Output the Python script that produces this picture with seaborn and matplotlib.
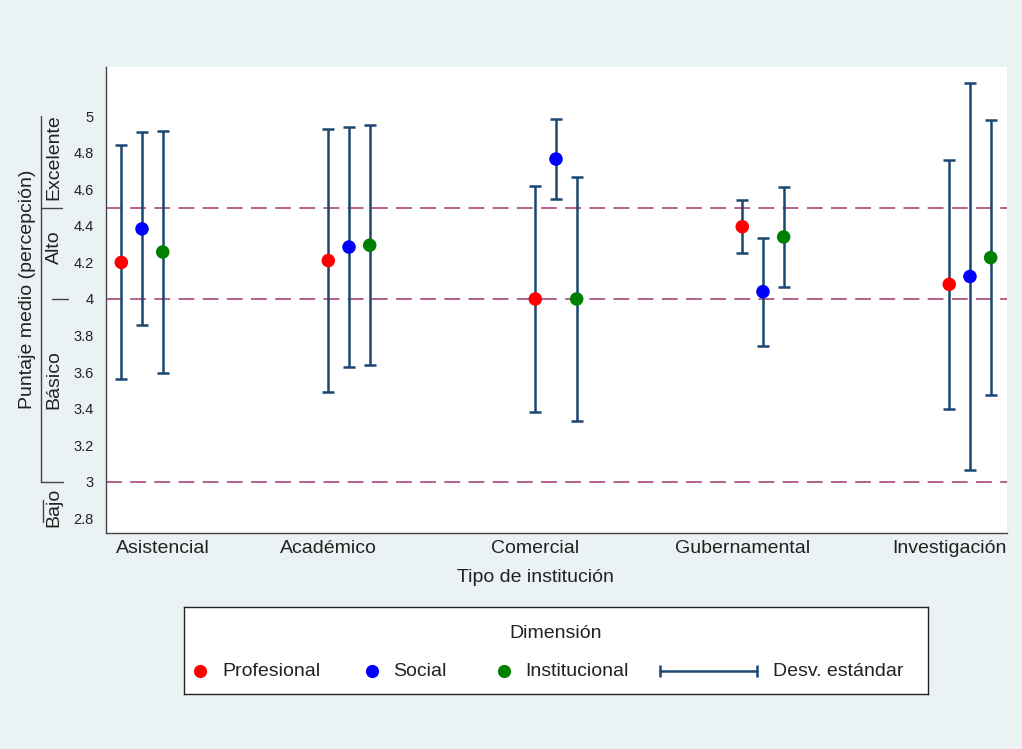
import numpy as np
import pandas as pd
import matplotlib.pyplot as plt
import matplotlib.transforms as mtransforms
import seaborn as sns

# datos: media y desviacion estandar por dimension
instituciones = ["Asistencial", "Académico", "Comercial", "Gubernamental", "Investigación"]
dimensiones = ["Profesional", "Social", "Institucional"]
media_profesional = [4.20, 4.21, 4.00, 4.395, 4.08]
media_social = [4.383, 4.284, 4.765, 4.04, 4.123]
media_institucional = [4.257, 4.294, 4.00, 4.339, 4.226]
de_profesional = [0.64, 0.721, 0.62, 0.144, 0.68]
de_social = [0.527, 0.657, 0.22, 0.295, 1.057]
de_institucional = [0.663, 0.655, 0.667, 0.273, 0.75]
niveles = ["Bajo", "Básico", "Alto", "Excelente"]
cortes = [3, 4, 4.5]

colores = {"Profesional": "#ff0000", "Social": "#0000ff", "Institucional": "#008000"}
navy = "#1a476f"

rows = []
medias = [media_profesional, media_social, media_institucional]
des = [de_profesional, de_social, de_institucional]
for j, dim in enumerate(dimensiones):
    for i, inst in enumerate(instituciones):
        rows.append({"inst": inst, "dim": dim, "media": medias[j][i], "de": des[j][i],
                     "x": i + (j - 1) * 0.1})
df = pd.DataFrame(rows)

sns.set_theme(style="white")
plt.rcParams['font.family'] = ['Liberation Sans', 'DejaVu Sans']

fig = plt.figure(figsize=(10.22, 7.49), dpi=100, facecolor="#eaf2f3")
ax = fig.add_axes([106 / 1022, 1 - 533 / 749, 901 / 1022, 466 / 749])
ax.set_facecolor("white")

for c in cortes:
    ax.axhline(c, color="#a8457a", lw=1.2, dashes=(9.5, 5), zorder=1)

ax.errorbar(df["x"], df["media"], yerr=df["de"], fmt="none", ecolor=navy,
            elinewidth=1.8, capsize=4.6, capthick=1.8, zorder=2)
sns.scatterplot(data=df, x="x", y="media", hue="dim", palette=colores, s=95,
                edgecolor="none", legend=False, zorder=3, ax=ax)

ax.set_xlim(-0.174, 4.179)
ax.set_ylim(2.721, 5.268)
yt = np.round(np.arange(2.8, 5.01, 0.2), 1)
ax.set_yticks(yt, [f"{v:g}" for v in yt])
ax.set_xticks([0.1, 0.9, 1.9, 2.9, 3.9], instituciones)
ax.tick_params(axis="y", length=6, width=0.9, color="#444444", labelsize=10.5,
               pad=3, labelcolor="#222222")
ax.tick_params(axis="x", length=0, labelsize=14, pad=5.3, labelcolor="#222222")
ax.set_xlabel("")
ax.set_ylabel("")
for s in ["top", "right"]:
    ax.spines[s].set_visible(False)
for s in ["left", "bottom"]:
    ax.spines[s].set_color("#444444")
    ax.spines[s].set_linewidth(1)

# eje secundario de niveles
tr = mtransforms.blended_transform_factory(ax.transAxes, ax.transData)
kw = dict(color="#444444", lw=1, transform=tr, clip_on=False)
ax.plot([-0.0721, -0.0721], [3.0, 5.0], **kw)
ax.plot([-0.0721, -0.0488], [4.5, 4.5], **kw)
ax.plot([-0.0599, -0.0422], [4.0, 4.0], **kw)
ax.plot([-0.0721, -0.0477], [3.0, 3.0], **kw)
ax.plot([-0.0699, -0.0699], [2.78, 2.9], **kw)
for txt, yv in zip(niveles, [2.863, 3.557, 4.284, 4.776]):
    ax.text(-0.0577, yv, txt, rotation=90, ha="center", va="center", fontsize=14,
            color="#222222", transform=tr)

fig.text(28 / 1022, 1 - 289 / 749, "Puntaje medio (percepción)", rotation=90,
         ha="center", va="center", fontsize=14, color="#222222")
fig.text(535 / 1022, 1 - 577 / 749, "Tipo de institución", ha="center", va="center",
         fontsize=14, color="#222222")

# leyenda
lax = fig.add_axes([184 / 1022, 1 - 694 / 749, 744 / 1022, 87 / 749])
lax.set_xlim(184, 928)
lax.set_ylim(694, 607)
lax.set_xticks([])
lax.set_yticks([])
lax.set_facecolor("white")
for s in lax.spines.values():
    s.set_color("#222222")
    s.set_linewidth(1)
lax.text(556, 633, "Dimensión", ha="center", va="center", fontsize=14, color="#222222")
for dim, xd, xt in zip(dimensiones, [200.5, 372, 504], [222, 393, 525]):
    lax.plot(xd, 671, "o", color=colores[dim], ms=9.5, mec="none")
    lax.text(xt, 671, dim, ha="left", va="center", fontsize=14, color="#222222")
lax.plot([660, 757], [671, 671], color=navy, lw=1.8, marker="|", ms=9, mew=1.8)
lax.text(773, 671, "Desv. estándar", ha="left", va="center", fontsize=14, color="#222222")

fig.savefig("out.png", dpi=100, facecolor=fig.get_facecolor())
